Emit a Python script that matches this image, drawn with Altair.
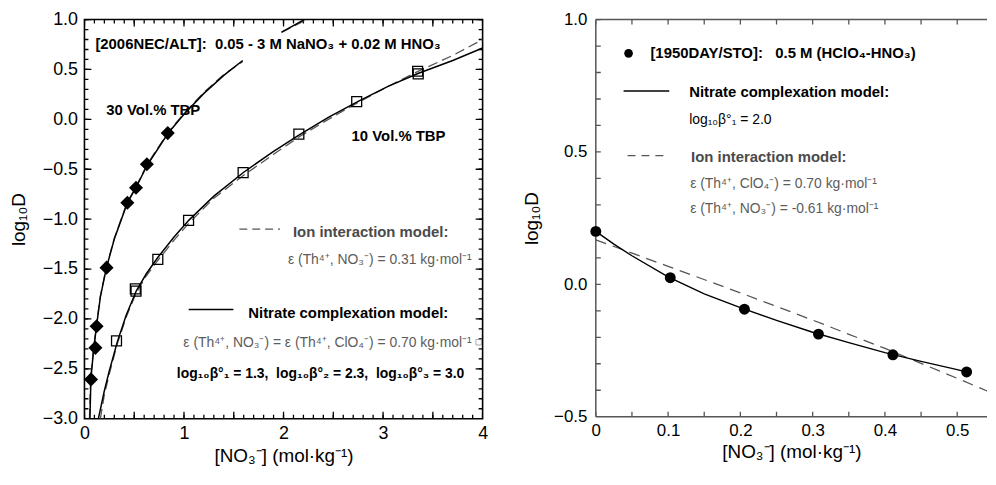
import altair as alt
import pandas as pd

FONT = "Liberation Sans"
GRAY_B = "#4a4a4a"
GRAY_T = "#5c5c5c"
DASH_C = "#555555"

# ---------------- left panel data: [2006NEC/ALT] ----------------
tbp30_x = [0.066, 0.11, 0.122, 0.222, 0.431, 0.518, 0.627, 0.837]
tbp30_y = [-2.606, -2.29, -2.074, -1.486, -0.836, -0.686, -0.450, -0.138]
tbp10_x = [0.322, 0.511, 0.518, 0.737, 1.046, 1.594, 2.154, 2.735, 3.347, 3.353]
tbp10_y = [-2.22, -1.699, -1.722, -1.403, -1.012, -0.534, -0.148, 0.177, 0.482, 0.456]

# nitrate complexation model (solid)
nc30a_x = [0.055, 0.065, 0.09, 0.12, 0.16, 0.22, 0.30, 0.43, 0.52, 0.63, 0.84, 1.0, 1.2, 1.4, 1.59]
nc30a_y = [-3.0, -2.6, -2.33, -2.08, -1.78, -1.49, -1.20, -0.84, -0.68, -0.46, -0.14, 0.05, 0.26, 0.44, 0.59]
nc30b_x = [1.98, 2.21]
nc30b_y = [0.874, 1.0]
nc10_x = [0.14, 0.2, 0.25, 0.33, 0.42, 0.52, 0.62, 0.74, 0.9, 1.05, 1.3, 1.6, 1.9, 2.15, 2.45, 2.75, 3.05, 3.35, 3.7, 4.0]
nc10_y = [-3.0, -2.72, -2.52, -2.23, -1.96, -1.72, -1.55, -1.38, -1.18, -1.01, -0.77, -0.53, -0.32, -0.16, 0.02, 0.18, 0.33, 0.46, 0.59, 0.715]

# ion interaction model (dashed)
ii30a_x = [0.05, 0.062, 0.088, 0.118, 0.158, 0.218, 0.30, 0.43, 0.52, 0.63, 0.84, 1.0, 1.2, 1.4, 1.59]
ii30a_y = [-3.0, -2.6, -2.33, -2.08, -1.78, -1.49, -1.19, -0.83, -0.67, -0.45, -0.13, 0.06, 0.27, 0.45, 0.58]
ii30b_x = [1.98, 2.23]
ii30b_y = [0.87, 1.0]
ii10_x = [0.16, 0.2, 0.25, 0.33, 0.42, 0.52, 0.62, 0.74, 0.9, 1.05, 1.3, 1.6, 1.9, 2.15, 2.45, 2.75, 3.05, 3.35, 3.7, 4.0]
ii10_y = [-3.0, -2.76, -2.55, -2.25, -1.98, -1.74, -1.57, -1.41, -1.21, -1.04, -0.79, -0.56, -0.35, -0.18, 0.0, 0.17, 0.33, 0.48, 0.64, 0.80]

left_x_major = [0, 0.5, 1, 1.5, 2, 2.5, 3, 3.5, 4]
left_x_minor = [round(i * 0.1, 1) for i in range(41)]
left_y_major = [-3, -2.5, -2, -1.5, -1, -0.5, 0, 0.5, 1]
left_y_minor = [round(-3 + i * 0.1, 1) for i in range(41)]
left_x_dom = [0, 4]
left_y_dom = [-3, 1]

# ---------------- right panel data: [1950DAY/STO] ----------------
day_x = [0.0, 0.103, 0.2056, 0.308, 0.411, 0.513]
day_y = [0.200, 0.025, -0.094, -0.188, -0.266, -0.331]
ncR_x = [0, 0.025, 0.05, 0.1, 0.15, 0.2, 0.25, 0.3, 0.35, 0.4, 0.45, 0.5, 0.513]
ncR_y = [0.2, 0.152, 0.108, 0.028, -0.036, -0.088, -0.136, -0.181, -0.220, -0.258, -0.291, -0.322, -0.331]
iiR_x = [0, 0.1, 0.2, 0.3, 0.4, 0.5, 0.55]
iiR_y = [0.168, 0.068, -0.032, -0.135, -0.242, -0.355, -0.413]

right_x_ticks = [round(i * 0.05, 2) for i in range(11)]
right_y_ticks = [round(-0.5 + i * 0.1, 1) for i in range(16)]
right_x_dom = [0, 0.5412]
right_y_dom = [-0.5, 1.0]

X_TITLE = "[NO\u2083\u207b] (mol\u00b7kg\u207b\u00b9)"
Y_TITLE = "log\u2081\u2080D"
NB = "\u00a0"

LW, LH = 401, 402
RW, RH = 394, 400


def axis(orient, values, expr, lsize, lpad, title, tpad):
    return alt.Axis(orient=orient, values=values, grid=False, domain=False, ticks=False,
                    labels=True, labelExpr=expr, labelFont=FONT, labelFontSize=lsize,
                    labelColor="black", labelPadding=lpad, labelOverlap=False,
                    labelFlush=False, title=title, titleFont=FONT, titleFontSize=19,
                    titleFontWeight="normal", titleColor="black", titlePadding=tpad)


def tick_frame(specs, xdom, ydom, width_px, height_px):
    """Inward tick marks as two-point segments (tick value, axis edge) -> (tick value, edge + length),
    the length (pixels) converted to data units of that axis."""
    ux = (xdom[1] - xdom[0]) / width_px
    uy = (ydom[1] - ydom[0]) / height_px
    rows = []
    k = 0
    for values, side, length in specs:
        for v in values:
            name = "t%d" % k
            k += 1
            if side == "bottom":
                rows += [(name, v, ydom[0]), (name, v, ydom[0] + length * uy)]
            elif side == "top":
                rows += [(name, v, ydom[1]), (name, v, ydom[1] - length * uy)]
            elif side == "left":
                rows += [(name, xdom[0], v), (name, xdom[0] + length * ux, v)]
            else:
                rows += [(name, xdom[1], v), (name, xdom[1] - length * ux, v)]
    return pd.DataFrame(rows, columns=["seg", "x", "y"])


def curves(parts):
    frames = []
    for name, xs, ys in parts:
        frames.append(pd.DataFrame({"x": xs, "y": ys, "seg": name}))
    return pd.concat(frames, ignore_index=True)


def txt(t, x, y, size=15, weight="bold", color="black", align="left"):
    return alt.Chart(pd.DataFrame({"t": [t]})).mark_text(
        align=align, baseline="alphabetic", font=FONT, fontSize=size,
        fontWeight=weight, color=color).encode(x=alt.value(x), y=alt.value(y), text="t:N")


def seg(x1, x2, y, dash=None, color="black", width=1.5):
    kw = dict(color=color, strokeWidth=width)
    if dash:
        kw["strokeDash"] = dash
    return alt.Chart(pd.DataFrame({"a": [0]})).mark_rule(**kw).encode(
        x=alt.value(x1), x2=alt.value(x2), y=alt.value(y))


def vseg(x, y1, y2, color="black", width=1.5):
    return alt.Chart(pd.DataFrame({"a": [0]})).mark_rule(color=color, strokeWidth=width).encode(
        x=alt.value(x), y=alt.value(y1), y2=alt.value(y2))


# ---------------- left panel ----------------
LXS = alt.Scale(domain=left_x_dom, nice=False, zero=False)
LYS = alt.Scale(domain=left_y_dom, nice=False, zero=False)

solid_L = curves([("30a", nc30a_x, nc30a_y), ("30b", nc30b_x, nc30b_y), ("10", nc10_x, nc10_y)])
dash_L = curves([("30a", ii30a_x, ii30a_y), ("30b", ii30b_x, ii30b_y), ("10", ii10_x, ii10_y)])
ticks_L = tick_frame([
    (left_x_minor, "bottom", 4), (left_x_major, "bottom", 7),
    (left_x_minor, "top", 4), (left_x_major, "top", 7),
    (left_y_minor, "left", 4), (left_y_major, "left", 7),
    (left_y_minor, "right", 4), (left_y_major, "right", 7),
], left_x_dom, left_y_dom, LW, LH)

l_ticks = alt.Chart(ticks_L).mark_line(color="black", strokeWidth=1.3, clip=True).encode(
    x=alt.X("x:Q", scale=LXS, axis=None),
    y=alt.Y("y:Q", scale=LYS, axis=None),
    detail="seg:N")
l_dash = alt.Chart(dash_L).mark_line(color=DASH_C, strokeWidth=1.3, strokeDash=[10, 5], clip=True).encode(
    x=alt.X("x:Q", scale=LXS, axis=None),
    y=alt.Y("y:Q", scale=LYS, axis=None),
    detail="seg:N")
l_solid = alt.Chart(solid_L).mark_line(color="black", strokeWidth=1.5, clip=True).encode(
    x=alt.X("x:Q", scale=LXS, axis=axis("bottom", [0, 1, 2, 3, 4], "format(datum.value, 'd')",
                                        18, 6, X_TITLE, 4)),
    y=alt.Y("y:Q", scale=LYS, axis=axis("left", left_y_major, "format(datum.value, '.1f')",
                                        18, 7, Y_TITLE, 14)),
    detail="seg:N")
l_dia = alt.Chart(pd.DataFrame({"x": tbp30_x, "y": tbp30_y})).mark_point(
    shape="diamond", filled=True, color="black", size=200, opacity=1).encode(
    x=alt.X("x:Q", scale=LXS, axis=None),
    y=alt.Y("y:Q", scale=LYS, axis=None))
l_sq = alt.Chart(pd.DataFrame({"x": tbp10_x, "y": tbp10_y})).mark_point(
    shape="square", filled=False, color="black", size=100, strokeWidth=1.3, opacity=1).encode(
    x=alt.X("x:Q", scale=LXS, axis=None),
    y=alt.Y("y:Q", scale=LYS, axis=None))

left_layers = [
    l_ticks, l_dash, l_solid, l_dia, l_sq,
    txt("[2006NEC/ALT]:" + NB + NB + "0.05 - 3 M NaNO\u2083 + 0.02 M HNO\u2083", 11, 30),
    txt("30 Vol.% TBP", 22, 96),
    txt("10 Vol.% TBP", 269, 122),
    seg(156, 197, 211, dash=[8, 5], color=DASH_C, width=1.3),
    txt("Ion interaction model:", 210, 219, color=GRAY_B),
    txt("\u03b5 (Th\u2074\u207a, NO\u2083\u207b) = 0.31 kg\u00b7mol\u207b\u00b9", 390, 246,
        size=14, weight="normal", color=GRAY_T, align="right"),
    seg(105, 150, 292),
    txt("Nitrate complexation model:", 165, 301),
    txt("\u03b5 (Th\u2074\u207a, NO\u2083\u207b) = \u03b5 (Th\u2074\u207a, ClO\u2084\u207b) = 0.70 kg\u00b7mol\u207b\u00b9", 390, 330,
        size=14, weight="normal", color=GRAY_T, align="right"),
    alt.Chart(pd.DataFrame({"a": [0]})).mark_point(shape="square", filled=False, color="#888888",
                                                    size=30, strokeWidth=1).encode(
        x=alt.value(397), y=alt.value(325)),
    txt("log\u2081\u2080\u03b2\u00b0\u2081 = 1.3," + NB + NB + "log\u2081\u2080\u03b2\u00b0\u2082 = 2.3," + NB + NB +
        "log\u2081\u2080\u03b2\u00b0\u2083 = 3.0", 93, 361, size=14),
]
left = alt.layer(*left_layers).resolve_axis(x="independent", y="independent").properties(
    width=LW, height=LH, view=alt.ViewBackground(stroke="black", strokeWidth=1.6))

# ---------------- right panel ----------------
RXS = alt.Scale(domain=right_x_dom, nice=False, zero=False)
RYS = alt.Scale(domain=right_y_dom, nice=False, zero=False)

ticks_R = tick_frame([
    (right_x_ticks, "bottom", 5), (right_x_ticks, "top", 5), (right_y_ticks, "left", 5),
], right_x_dom, right_y_dom, RW, RH)

r_ticks = alt.Chart(ticks_R).mark_line(color=DASH_C, strokeWidth=1.3, clip=True).encode(
    x=alt.X("x:Q", scale=RXS, axis=None),
    y=alt.Y("y:Q", scale=RYS, axis=None),
    detail="seg:N")
r_dash = alt.Chart(pd.DataFrame({"x": iiR_x, "y": iiR_y})).mark_line(
    color=DASH_C, strokeWidth=1.3, strokeDash=[11, 7], clip=True).encode(
    x=alt.X("x:Q", scale=RXS, axis=None),
    y=alt.Y("y:Q", scale=RYS, axis=None))
r_solid = alt.Chart(pd.DataFrame({"x": ncR_x, "y": ncR_y})).mark_line(
    color="black", strokeWidth=1.4, clip=True).encode(
    x=alt.X("x:Q", scale=RXS, axis=axis(
        "bottom", right_x_ticks,
        "round(datum.value * 20) % 2 === 0 ? (datum.value === 0 ? '0' : format(datum.value, '.1f')) : ''",
        17, 6, X_TITLE, 4)),
    y=alt.Y("y:Q", scale=RYS, axis=axis(
        "left", right_y_ticks,
        "abs(round(datum.value * 10)) % 5 === 0 ? format(datum.value, '.1f') : ''",
        17, 9, Y_TITLE, 12)))
r_pts = alt.Chart(pd.DataFrame({"x": day_x, "y": day_y})).mark_point(
    shape="circle", filled=True, color="black", size=121, opacity=1, clip=False).encode(
    x=alt.X("x:Q", scale=RXS, axis=None),
    y=alt.Y("y:Q", scale=RYS, axis=None))

right_layers = [
    seg(0, RW, 0, color=DASH_C, width=1.5),
    seg(0, RW, RH, color=DASH_C, width=1.5),
    vseg(0, 0, RH, color=DASH_C, width=1.5),
    r_ticks, r_dash, r_solid, r_pts,
    alt.Chart(pd.DataFrame({"a": [0]})).mark_point(shape="circle", filled=True, color="black",
                                                    size=76, opacity=1).encode(
        x=alt.value(33), y=alt.value(34)),
    txt("[1950DAY/STO]:" + NB + NB + NB + "0.5 M (HClO\u2084-HNO\u2083)", 55, 39),
    seg(28, 74, 72, width=1.4),
    txt("Nitrate complexation model:", 94, 78),
    txt("log\u2081\u2080\u03b2\u00b0\u2081 = 2.0", 94, 105, size=14, weight="normal"),
    seg(32, 74, 137, dash=[8, 6], color=DASH_C, width=1.3),
    txt("Ion interaction model:", 96, 143, color=GRAY_B),
    txt("\u03b5 (Th\u2074\u207a, ClO\u2084\u207b) = 0.70 kg\u00b7mol\u207b\u00b9", 95, 170,
        size=14, weight="normal", color=GRAY_T),
    txt("\u03b5 (Th\u2074\u207a, NO\u2083\u207b) = -0.61 kg\u00b7mol\u207b\u00b9", 95, 195,
        size=14, weight="normal", color=GRAY_T),
]
right = alt.layer(*right_layers).resolve_axis(x="independent", y="independent").properties(
    width=RW, height=RH, view=alt.ViewBackground(strokeWidth=0, stroke="transparent"))

chart = alt.hconcat(left, right, spacing=34).properties(
    padding={"left": 0, "top": 0, "right": 0, "bottom": 0}
).configure(background="white")

chart.save("out.html", embed_options={"renderer": "svg", "actions": False})
